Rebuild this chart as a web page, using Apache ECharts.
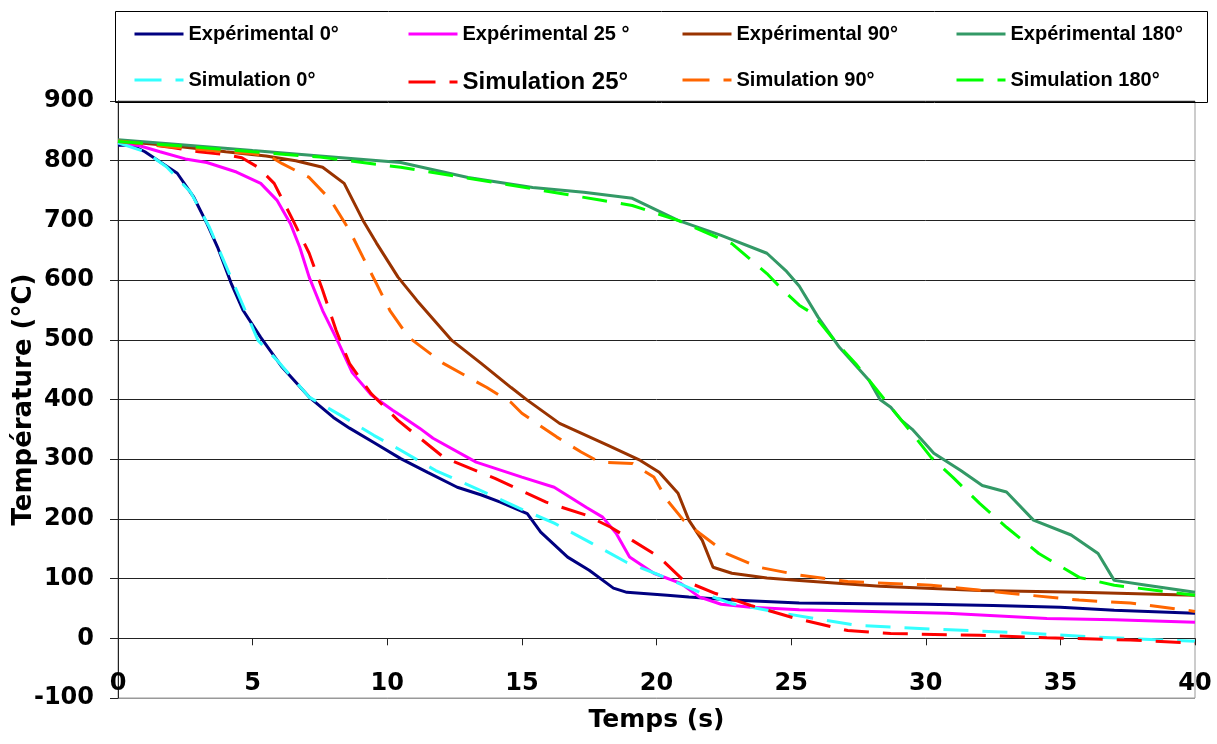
<!DOCTYPE html>
<html>
<head>
<meta charset="utf-8">
<script src="https://cdn.jsdelivr.net/npm/echarts@6/dist/echarts.min.js"></script>
<style>
html,body{margin:0;padding:0;background:#fff;}
#c{width:1217px;height:744px;}
</style>
</head>
<body>
<div id="c"></div>
<script>
// ---- data (time s, temperature °C) ----
const seriesNames = ['Expérimental 0°','Expérimental 25 °','Expérimental 90°','Expérimental 180°',
                     'Simulation 0°','Simulation 25°','Simulation 90°','Simulation 180°'];
const xTicks = [0,5,10,15,20,25,30,35,40];
const yTicks = [-100,0,100,200,300,400,500,600,700,800,900];

const exp0 = [[0,826],[0.5,826],[1.0,815],[1.5,800],[2.2,779],[2.8,740],[3.3,695],[3.7,655],[4.2,595],[4.65,549],[5.3,504],[6.1,454],[7.1,404],[8.0,370],[8.6,352],[9.5,328],[10.5,301],[11.5,278],[12.6,253],[13.5,240],[14.2,228],[15.2,209],[15.7,178],[16.7,136],[17.5,114],[18.4,84],[18.9,77],[20.4,72],[21.2,69],[22.8,64],[25.3,59],[28,58],[30,57],[32.5,55],[35,52],[37,47],[40,42]];
const exp25 = [[0,830],[0.8,825],[1.56,815],[2.5,803],[3.3,797],[4.4,781],[5.3,762],[5.9,734],[6.4,695],[6.75,655],[7.1,605],[7.6,549],[8.2,494],[8.7,445],[9.4,408],[10.2,382],[10.5,373],[11.2,352],[11.7,335],[13.3,295],[15.0,270],[16.2,253],[17.4,219],[18.0,203],[18.5,176],[19.0,136],[19.9,109],[20.9,92],[21.6,69],[22.4,57],[23.5,52],[25.3,48],[28,45],[30.8,42],[34.5,33],[37,31],[40,27]];
const exp90 = [[0,833],[2,825],[4,815],[5.5,808],[6.6,800],[7.6,789],[8.4,762],[9.1,700],[9.6,662],[10.4,605],[11.1,566],[12.4,499],[13.5,460],[14.6,420],[15.2,399],[16.4,360],[18.2,323],[19.4,298],[20.1,278],[20.8,243],[21.2,198],[21.7,164],[22.1,119],[22.8,109],[24.1,101],[25.3,97],[28.3,87],[32,80],[35.7,77],[40,72]];
const exp180 = [[0,835],[2,828],[5,817],[7.5,808],[10.5,797],[13,772],[15.4,755],[17.3,747],[19.1,737],[20.8,700],[22.4,675],[24.1,645],[24.8,616],[25.3,590],[26.0,538],[26.8,487],[27.9,432],[28.3,400],[28.7,387],[29.1,365],[29.5,350],[30.3,310],[31.3,281],[32.1,256],[33.0,245],[34.0,198],[35.4,173],[36.4,142],[37.0,97],[38.2,89],[40,77]];
const sim0 = [[0,830],[1,815],[1.8,790],[2.7,747],[3.4,688],[4.4,583],[5.2,499],[5.9,466],[7.1,404],[8.4,370],[9.5,340],[10.5,315],[11.8,281],[13.6,245],[14.9,218],[16.2,193],[17.6,159],[18.9,127],[20.1,106],[21.6,77],[22.8,58],[24.7,42],[27.4,22],[30.4,15],[33.2,10],[36.3,2],[40,-5]];
const sim25 = [[0,832],[1,828],[2,822],[3,815],[4,810],[4.6,805],[5.2,789],[5.8,762],[6.5,700],[7.1,645],[7.6,583],[8.1,516],[8.6,460],[9.4,410],[10.4,365],[12.1,303],[14.0,268],[15.9,228],[17.4,206],[18.3,186],[19.1,164],[20.1,136],[21.0,97],[22.2,75],[23.5,55],[25.2,33],[27.1,13],[28.7,8],[32,5],[34.5,1],[37.6,-3],[40,-8]];
const sim90 = [[0,833],[2,823],[4,815],[5.0,812],[5.65,807],[6.1,795],[7.1,772],[7.9,734],[8.6,683],[9.1,638],[9.6,594],[10.1,549],[10.8,504],[12.1,460],[13.7,420],[14.6,395],[15.0,377],[16.3,337],[17.2,312],[17.9,295],[19.1,293],[19.9,270],[20.4,231],[21.0,198],[21.6,176],[22.6,142],[23.8,119],[25.3,106],[27.1,95],[30.2,89],[33.2,75],[35.7,64],[37.6,59],[40,45]];
const sim180 = [[0,832],[2,826],[5,815],[7.5,806],[10.5,789],[14.2,762],[17.9,734],[19.1,725],[20.8,700],[22.8,661],[24.1,611],[24.7,583],[25.3,558],[25.8,544],[26.7,494],[27.4,460],[28.7,387],[29.5,343],[30.2,303],[31.0,270],[32.0,226],[33.0,186],[34.2,142],[35.7,102],[37.0,89],[40,72]];

const allData = [exp0, exp25, exp90, exp180, sim0, sim25, sim90, sim180];
const colors = ['#000080','#ff00ff','#993300','#339966','#33ffff','#ff0000','#ff6600','#00ff00'];
const DASH = [25,14];

const series = allData.map((d,i)=>({
  name: seriesNames[i],
  type: 'line',
  data: d,
  xAxisIndex: 0,
  symbol: 'none',
  showSymbol: false,
  animation: false,
  z: i < 4 ? 3 : 4,
  itemStyle: {color: colors[i]},
  lineStyle: {color: colors[i], width: 3, type: i < 4 ? 'solid' : DASH}
}));

const legendX = [133, 407, 681, 955];
const legendY = [24, 70];
const legends = seriesNames.map((n,i)=>({
  data: [{name: n,
          lineStyle: {type: i < 4 ? 'solid' : [27,14], width: 3},
          itemStyle: {color: 'rgba(0,0,0,0)', borderColor: 'rgba(0,0,0,0)', borderWidth: 0, opacity: 0}}],
  left: legendX[i%4],
  top: legendY[Math.floor(i/4)],
  padding: 0,
  itemWidth: 49,
  itemHeight: 14,
  selectedMode: false,
  textStyle: {fontFamily: 'Liberation Sans', fontWeight: 'bold', color: '#000', fontSize: (i === 5 ? 24 : 20)}
}));

const axisFont = {fontFamily: 'DejaVu Sans', fontWeight: 'bold', color: '#000', fontSize: 24};
const splitColors = yTicks.map((v,i)=> i === 0 ? '#999' : '#222');

const option = {
  backgroundColor: '#fff',
  animation: false,
  grid: {left: 118, right: 22, top: 101, bottom: 46, containLabel: false, outerBoundsMode: 'none',
         show: true, borderColor: '#999', borderWidth: 1, backgroundColor: 'transparent'},
  legend: legends,
  xAxis: [
    {type: 'value', min: xTicks[0], max: xTicks[xTicks.length-1], interval: 5,
     axisLine: {show: true, onZero: true, lineStyle: {color: '#222', width: 1}},
     axisTick: {show: true, length: 7, lineStyle: {color: '#222'}},
     axisLabel: {show: false}, splitLine: {show: false}},
    {type: 'value', min: xTicks[0], max: xTicks[xTicks.length-1], interval: 5, position: 'bottom',
     axisLine: {show: false, onZero: false}, axisTick: {show: false},
     axisLabel: Object.assign({inside: true, margin: 2, formatter: v => String(v)}, axisFont),
     splitLine: {show: false},
     name: 'Temps (s)', nameLocation: 'middle', nameGap: 10, nameMoveOverlap: false,
     nameTextStyle: {fontFamily: 'DejaVu Sans', fontWeight: 'bold', color: '#000', fontSize: 25, verticalAlign: 'top'}}
  ],
  yAxis: {type: 'value', min: yTicks[0], max: yTicks[yTicks.length-1], interval: 100,
    axisLine: {show: true, lineStyle: {color: '#222', width: 1}},
    axisTick: {show: true, length: 8, lineStyle: {color: '#222'}},
    axisLabel: Object.assign({margin: 24}, axisFont),
    splitLine: {show: true, lineStyle: {color: splitColors, width: 1}},
    name: 'Température (°C)', nameLocation: 'middle', nameGap: 81, nameRotate: 90, nameMoveOverlap: false,
    nameTextStyle: {fontFamily: 'DejaVu Sans', fontWeight: 'bold', color: '#000', fontSize: 26}
  },
  graphic: [{type: 'rect', left: 113, top: 9, shape: {width: 1092, height: 91}, z: 100,
    style: {fill: null, stroke: '#000', lineWidth: 1}}],
  series: series
};
const chart = echarts.init(document.getElementById('c'), null, {renderer: 'canvas'});
chart.setOption(option);
</script>
</body>
</html>
